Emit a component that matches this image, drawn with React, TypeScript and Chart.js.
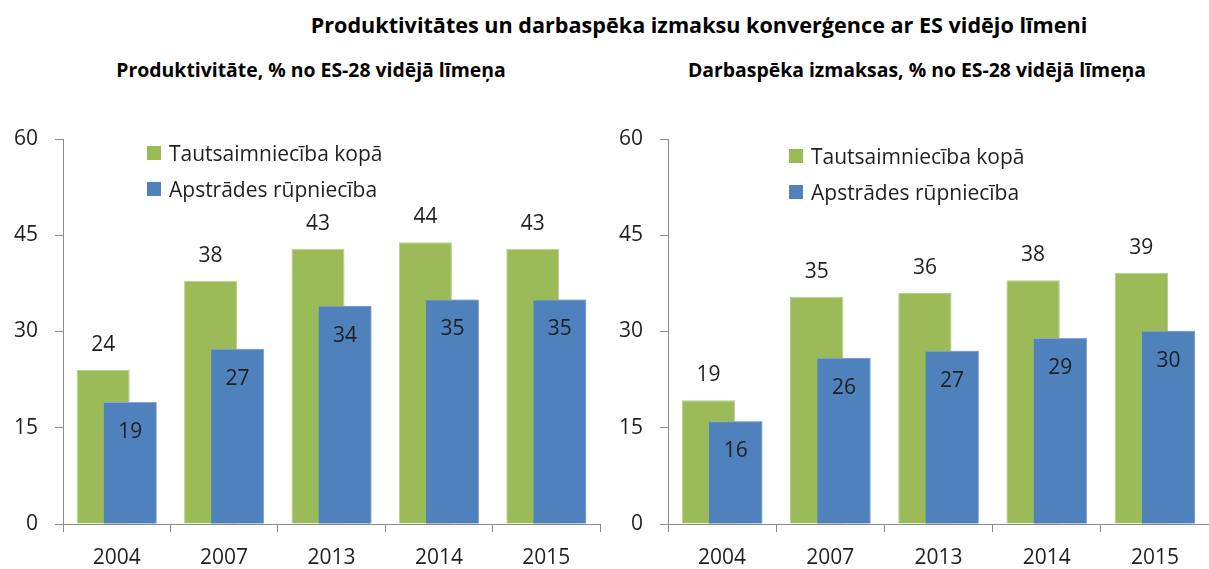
import React, { useEffect, useRef } from "react";
import { Chart, registerables } from "chart.js";
Chart.register(...registerables);

const years = ["2004", "2007", "2013", "2014", "2015"];
const seriesNames = ["Tautsaimniecība kopā", "Apstrādes rūpniecība"];
const productivityTotal = [24.0, 37.9, 42.9, 43.9, 42.9];
const productivityManuf = [19.0, 27.3, 34.0, 35.0, 35.0];
const laborCostTotal = [19.3, 35.4, 36.0, 38.0, 39.1];
const laborCostManuf = [16.0, 25.9, 27.0, 29.0, 30.1];
const yTicks = [0, 15, 30, 45, 60];

const mainTitle = "Produktivitātes un darbaspēka izmaksu konverģence ar ES vidējo līmeni";
const leftTitle = "Produktivitāte, % no ES-28 vidējā līmeņa";
const rightTitle = "Darbaspēka izmaksas, % no ES-28 vidējā līmeņa";

const GREEN = "#9BBB59";
const GREEN_EDGE = "#B9CF8C";
const BLUE = "#4F81BD";
const BLUE_EDGE = "#86A7D2";
const AXIS = "#8C8C8C";
const TEXT = "#1F1F1F";
const FONT = '"Open Sans", "Noto Sans", sans-serif';
const TITLE_FONT = '"Open Sans", "Noto Sans", sans-serif';

const labelPlugin = {
  id: "valueLabels",
  afterDatasetsDraw(chart: any) {
    const ctx = chart.ctx;
    // draw blue bars on top of green ones
    const blueMeta = chart.getDatasetMeta(1);
    ctx.save();
    blueMeta.data.forEach((el: any) => el.draw(ctx));
    ctx.restore();

    ctx.save();
    ctx.font = `21px ${FONT}`;
    ctx.fillStyle = TEXT;
    ctx.textAlign = "center";
    ctx.textBaseline = "middle";
    const greenMeta = chart.getDatasetMeta(0);
    greenMeta.data.forEach((el: any, i: number) => {
      const v = chart.data.datasets[0].data[i];
      ctx.fillText(String(Math.round(v)), el.x, el.y - 25);
    });
    blueMeta.data.forEach((el: any, i: number) => {
      const v = chart.data.datasets[1].data[i];
      ctx.fillText(String(Math.round(v)), el.x, el.y + 30);
    });
    ctx.restore();
  },
};

function Panel(props: { left: number; width: number; total: number[]; manuf: number[]; padRight: number }) {
  const ref = useRef<HTMLCanvasElement>(null);
  useEffect(() => {
    const chart = new Chart(ref.current as HTMLCanvasElement, {
      type: "bar",
      data: {
        labels: years,
        datasets: [
          {
            label: seriesNames[0],
            data: props.total,
            backgroundColor: GREEN,
            borderColor: GREEN_EDGE,
            borderWidth: { top: 1, right: 1, left: 1, bottom: 0 },
            categoryPercentage: 0.503,
            barPercentage: 1.963,
          },
          {
            label: seriesNames[1],
            data: props.manuf,
            backgroundColor: BLUE,
            borderColor: BLUE_EDGE,
            borderWidth: { top: 1, right: 1, left: 0, bottom: 0 },
            categoryPercentage: 0.503,
            barPercentage: 1.963,
          },
        ],
      },
      options: {
        animation: false,
        responsive: false,
        maintainAspectRatio: false,
        layout: { padding: { top: 139, right: props.padRight, left: 0, bottom: 0 } },
        plugins: { legend: { display: false }, tooltip: { enabled: false }, title: { display: false } },
        scales: {
          x: {
            grid: { offset: true, drawOnChartArea: false, drawTicks: true, tickLength: 8, color: AXIS },
            border: { display: true, color: AXIS, width: 1 },
            ticks: { font: { family: FONT, size: 21 }, color: TEXT, padding: 13, maxRotation: 0 },
            afterFit: (s: any) => {
              s.height = 45;
            },
          },
          y: {
            min: 0,
            max: 60,
            afterBuildTicks: (s: any) => {
              s.ticks = yTicks.map((v) => ({ value: v }));
            },
            grid: { drawOnChartArea: false, drawTicks: true, tickLength: 8, color: AXIS },
            border: { display: true, color: AXIS, width: 1 },
            ticks: { font: { family: FONT, size: 21 }, color: TEXT, padding: 17 },
            afterFit: (s: any) => {
              s.width = 63;
            },
          },
        },
      } as any,
      plugins: [labelPlugin],
    });
    return () => chart.destroy();
  }, []);
  return (
    <canvas
      ref={ref}
      width={props.width}
      height={569}
      style={{ position: "absolute", left: props.left, top: 0, width: props.width, height: 569 }}
    />
  );
}

function Legend(props: { left: number; top: number }) {
  const items = [
    { name: seriesNames[0], color: GREEN },
    { name: seriesNames[1], color: BLUE },
  ];
  return (
    <>
      {items.map((it, i) => (
        <div
          key={i}
          style={{
            position: "absolute",
            left: props.left,
            top: props.top + i * 36,
            height: 24,
            display: "flex",
            alignItems: "center",
            whiteSpace: "nowrap",
            font: `21px ${FONT}`,
            color: TEXT,
          }}
        >
          <span style={{ display: "inline-block", width: 14, height: 14, background: it.color, marginRight: 8 }} />
          {it.name}
        </div>
      ))}
    </>
  );
}

function TitleText(props: { text: string; cx: number; cy: number; size: number }) {
  return (
    <div
      style={{
        position: "absolute",
        left: props.cx,
        top: props.cy - props.size / 2,
        transform: "translateX(-50%)",
        whiteSpace: "nowrap",
        font: `bold ${props.size}px ${TITLE_FONT}`,
        lineHeight: `${props.size}px`,
        color: "#000",
      }}
    >
      {props.text}
    </div>
  );
}

export default function App() {
  return (
    <div style={{ position: "absolute", left: 0, top: 0, width: 1209, height: 569, background: "#fff", overflow: "hidden" }}>
      <TitleText text={mainTitle} cx={699} cy={25} size={21.6} />
      <TitleText text={leftTitle} cx={311} cy={70} size={19.4} />
      <TitleText text={rightTitle} cx={917} cy={70} size={19.4} />
      <Panel left={0} width={605} total={productivityTotal} manuf={productivityManuf} padRight={5} />
      <Panel left={605} width={604} total={laborCostTotal} manuf={laborCostManuf} padRight={0} />
      <Legend left={147} top={141} />
      <Legend left={789} top={144} />
    </div>
  );
}
